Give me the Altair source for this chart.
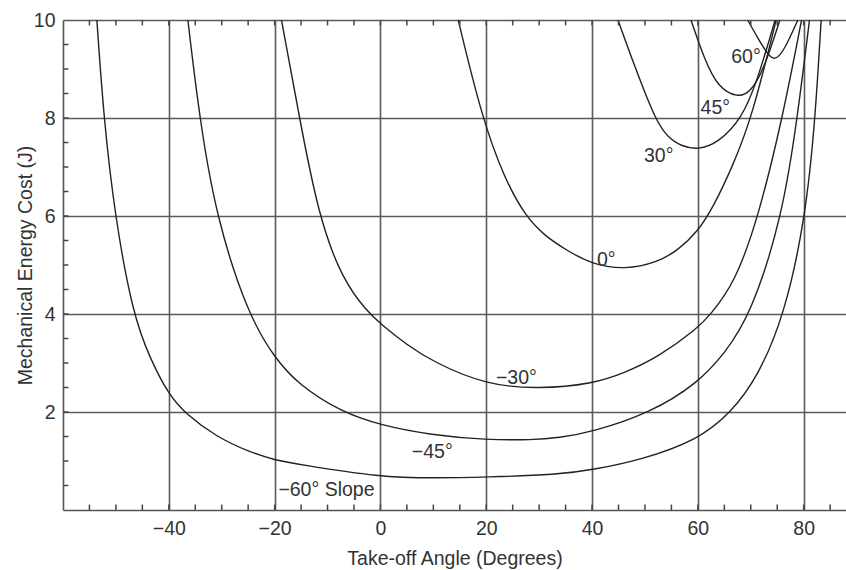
import altair as alt
import pandas as pd

# Mechanical energy cost (J) against take-off angle (degrees), one curve per slope
angle_m60 = [-53.6, -52.3, -50.2, -46.8, -43.6, -40.0, -37.0, -31.0, -24.7, -20.0, -15.3, 0.0,
             10.0, 20.0, 33.6, 40.0, 49.2, 60.0, 66.2, 71.3, 76.4, 80.4, 82.2, 83.3]
cost_m60 = [10.0, 8.0, 6.0, 4.0, 3.1, 2.35, 1.98, 1.49, 1.18, 1.02, 0.93, 0.67,
            0.65, 0.67, 0.72, 0.82, 1.02, 1.43, 1.98, 2.71, 3.98, 6.0, 8.0, 10.0]

angle_m45 = [-36.4, -34.2, -31.1, -25.1, -20.0, -15.4, -7.4, 0.0, 9.6, 20.0, 28.7, 33.6,
             40.0, 51.0, 60.0, 65.1, 70.0, 76.0, 78.8, 81.1]
cost_m45 = [10.0, 8.0, 6.0, 4.0, 3.1, 2.55, 2.0, 1.73, 1.53, 1.43, 1.43, 1.47,
            1.59, 1.98, 2.59, 3.2, 3.98, 6.0, 8.0, 10.0]

angle_m30 = [-18.7, -15.3, -11.7, -7.2, -2.5, 0.0, 5.0, 10.0, 20.0, 30.0, 40.0, 46.2, 52.5,
             60.0, 62.3, 67.0, 71.5, 76.0, 79.6]
cost_m30 = [10.0, 8.0, 6.0, 4.7, 4.05, 3.8, 3.37, 3.02, 2.55, 2.47, 2.57, 2.8, 3.12,
            3.71, 3.98, 4.63, 6.0, 8.0, 10.0]

angle_0 = [14.7, 19.2, 23.5, 27.4, 31.0, 34.9, 39.8, 46.2, 52.5, 56.2, 60.0, 63.0, 66.5, 70.2, 74.8]
cost_0 = [10.0, 8.0, 6.75, 6.0, 5.6, 5.32, 5.02, 4.9, 5.06, 5.3, 5.68, 6.2, 7.0, 8.0, 10.0]

angle_30 = [44.9, 48.1, 51.9, 54.3, 57.0, 60.0, 63.8, 68.3, 71.3, 74.6]
cost_30 = [10.0, 9.04, 7.98, 7.6, 7.42, 7.35, 7.49, 7.98, 8.78, 10.0]

angle_45 = [58.7, 61.3, 63.8, 67.5, 70.0, 72.5, 75.5]
cost_45 = [10.0, 9.18, 8.63, 8.41, 8.53, 9.0, 10.0]

angle_60 = [69.4, 71.5, 73.2, 74.5, 76.2, 78.9]
cost_60 = [10.0, 9.6, 9.3, 9.17, 9.35, 10.0]

# Curve annotations
label_text = ["60°", "45°", "30°", "0°", "−30°", "−45°", "−60° Slope"]
label_angle = [69.1, 63.3, 52.6, 42.7, 25.7, 9.8, -10.2]
label_cost = [9.24, 8.2, 7.22, 5.1, 2.69, 1.18, 0.41]

# Axis tick values
x_major = [-40, -20, 0, 20, 40, 60, 80]
y_major = [2, 4, 6, 8, 10]
x_minor = list(range(-55, 90, 5))
y_minor = [v / 2 for v in range(1, 20)]

curves = {
    "-60": (angle_m60, cost_m60),
    "-45": (angle_m45, cost_m45),
    "-30": (angle_m30, cost_m30),
    "0": (angle_0, cost_0),
    "30": (angle_30, cost_30),
    "45": (angle_45, cost_45),
    "60": (angle_60, cost_60),
}
rows = []
for slope, (xs, ys) in curves.items():
    for a, c in zip(xs, ys):
        rows.append({"slope": slope, "angle": a, "cost": c})
curve_df = pd.DataFrame(rows)
label_df = pd.DataFrame({"text": label_text, "angle": label_angle, "cost": label_cost})

# Minor tick centres just inside the bottom, top and left edges of the frame
xtick_rows = []
for v in x_minor:
    xtick_rows.append({"angle": v, "cost": 0.055})
    xtick_rows.append({"angle": v, "cost": 9.945})
xtick_df = pd.DataFrame(xtick_rows)
ytick_df = pd.DataFrame({"cost": y_minor, "angle": [-59.5] * len(y_minor)})

FONT = "Liberation Sans"
INK = "#333333"

x_scale = alt.Scale(domain=[-60, 88], nice=False, zero=False)
y_scale = alt.Scale(domain=[0, 10], nice=False, zero=True)

x_axis = alt.Axis(values=x_major, grid=True, ticks=False, labelPadding=9,
                  title="Take-off Angle (Degrees)", titlePadding=12)
y_axis = alt.Axis(values=y_major, grid=True, ticks=False, labelPadding=8,
                  title="Mechanical Energy Cost (J)", titlePadding=-2)

lines = alt.Chart(curve_df).mark_line(
    interpolate="basis", color="#222222", strokeWidth=1.4, clip=True
).encode(
    x=alt.X("angle:Q", scale=x_scale, axis=x_axis),
    y=alt.Y("cost:Q", scale=y_scale, axis=y_axis),
    detail="slope:N",
)

labels = alt.Chart(label_df).mark_text(
    font=FONT, fontSize=19.5, color=INK, align="center", baseline="middle"
).encode(
    x=alt.X("angle:Q", scale=x_scale, axis=x_axis),
    y=alt.Y("cost:Q", scale=y_scale, axis=y_axis),
    text="text:N",
)

x_ticks = alt.Chart(xtick_df).mark_tick(
    color="#444444", thickness=1.5, size=5.5, orient="vertical", opacity=1
).encode(
    x=alt.X("angle:Q", scale=x_scale, axis=x_axis),
    y=alt.Y("cost:Q", scale=y_scale, axis=y_axis),
)
y_ticks = alt.Chart(ytick_df).mark_tick(
    color="#444444", thickness=1.5, size=5.5, orient="horizontal", opacity=1
).encode(
    x=alt.X("angle:Q", scale=x_scale, axis=x_axis),
    y=alt.Y("cost:Q", scale=y_scale, axis=y_axis),
)

chart = alt.layer(lines, labels, x_ticks, y_ticks).properties(
    width=783,
    height=490,
    autosize=alt.AutoSizeParams(type="none"),
    padding={"left": 63, "top": 20, "right": 0, "bottom": 60},
    background="white",
).configure_view(
    stroke=None
).configure_axis(
    gridColor="#5a5a5a",
    gridWidth=1.6,
    gridOpacity=1,
    domainColor="#555555",
    domainWidth=1.6,
    labelFont=FONT,
    labelFontSize=19.5,
    labelColor=INK,
    titleFont=FONT,
    titleFontSize=19.5,
    titleFontWeight="normal",
    titleColor=INK,
)

chart.save("out.html", embed_options={"renderer": "svg", "actions": False})
